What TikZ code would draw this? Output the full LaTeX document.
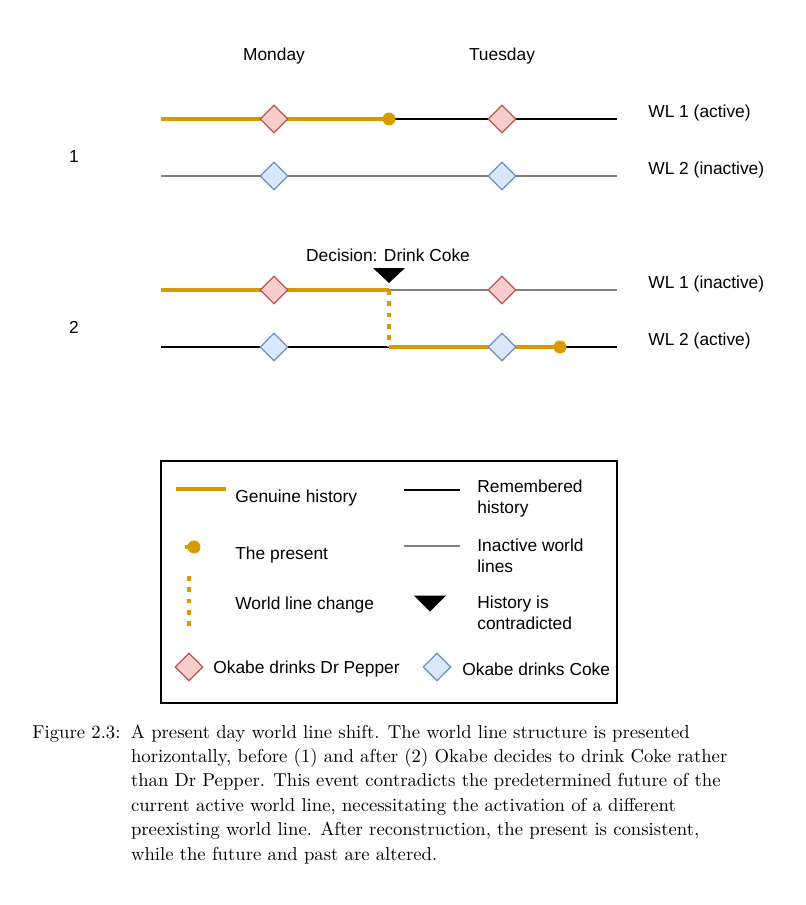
\documentclass[tikz,border=0pt]{standalone}
\usepackage{fontspec}
\newfontfamily\wlfont{Liberation Sans}
\usetikzlibrary{shapes.geometric,positioning}
\definecolor{wlorange}{RGB}{215,155,0}
\definecolor{wlgray}{RGB}{128,128,128}
\definecolor{pepfill}{RGB}{248,206,204}
\definecolor{pepline}{RGB}{184,84,80}
\definecolor{cokefill}{RGB}{218,232,252}
\definecolor{cokeline}{RGB}{108,142,191}

\tikzset{
  genuine/.style={wlorange,line width=2.4pt},
  remembered/.style={black,line width=1.4pt},
  inactive/.style={wlgray,line width=0.55pt},
  wlchange/.style={wlorange,line width=2.6pt,dash pattern=on 2.6pt off 3.3pt},
  present/.style={circle,fill=wlorange,inner sep=0pt,minimum size=6.8pt},
  pepper/.style={diamond,draw=pepline,fill=pepfill,line width=0.6pt,
                 inner sep=0pt,minimum size=14.7pt},
  coke/.style={diamond,draw=cokeline,fill=cokefill,line width=0.6pt,
               inner sep=0pt,minimum size=14.7pt},
  lbl/.style={anchor=west,align=left,inner sep=0pt}
}

\begin{document}
\begin{tikzpicture}[x=0.524pt,y=-0.524pt,
    every node/.style={font=\wlfont\fontsize{9.1}{11}\selectfont}]
  \useasboundingbox (0,0) rectangle (805,905);
  \node (mon) at (274,56){Monday};
  \node (tue) at (502,56){Tuesday};
  \foreach \n/\y in {1/119,2/176,3/290,4/347}{
    \coordinate (a\n) at (161,\y);
    \coordinate (b\n) at (617,\y);
  }
  % before the decision
  \node (one) at (74,157){1};
  \coordinate (now1) at (389,119);
  \draw[remembered](now1)--(b1);
  \draw[genuine](a1)--(now1);
  \draw[inactive](a2)--(b2);
  \node[present] (dot1) at (now1){};
  \node[lbl] (wl1a) at (648,113){WL 1 (active)};
  \node[lbl] (wl2i) at (648,170){WL 2 (inactive)};
  % after the decision
  \node (two) at (74,327){2};
  \node (dec) at (388,255){Decision: Drink Coke};
  \coordinate (sw3) at (389,290);
  \coordinate (sw4) at (389,347);
  \coordinate (now2) at (560,347);
  \coordinate (contra) at (389,275.5);
  \draw[inactive](sw3)--(b3);
  \draw[genuine](a3)--(sw3);
  \draw[remembered](a4)--(sw4);
  \draw[remembered](now2)--(b4);
  \draw[genuine](sw4)--(now2);
  \draw[wlchange](sw3)--(sw4);
  \fill (contra) ++(-16,-7.5) -- ++(32,0) -- ++(-16,15) -- cycle;
  \node[present] (dot2) at (now2){};
  \node[lbl] (wl1i) at (648,284){WL 1 (inactive)};
  \node[lbl] (wl2a) at (648,341){WL 2 (active)};
  \foreach \x/\d in {274/m,502/t}{
    \node[pepper] (pep1\d) at (\x,119){};
    \node[coke] (coke1\d) at (\x,176){};
    \node[pepper] (pep2\d) at (\x,290){};
    \node[coke] (coke2\d) at (\x,347){};
  }
  % legend
  \coordinate (lgnw) at (161,461);
  \coordinate (lgse) at (617,703);
  \draw[line width=0.8pt](lgnw) rectangle (lgse);
  \coordinate (g1) at (176,489); \coordinate (g2) at (226,489);
  \draw[genuine](g1)--(g2);
  \node[lbl] (lgen) at (235,498){Genuine history};
  \coordinate (r1) at (404,490); \coordinate (r2) at (460,490);
  \draw[remembered](r1)--(r2);
  \node[lbl] (lrem) at (477,498.5){Remembered\\history};
  \coordinate (q1) at (185,547); \coordinate (q2) at (194,547);
  \draw[genuine](q1)--(q2);
  \node[present] (lnow) at (q2){};
  \node[lbl] (lpres) at (235,555){The present};
  \coordinate (i1) at (404,546); \coordinate (i2) at (460,546);
  \draw[inactive](i1)--(i2);
  \node[lbl] (linact) at (477,555.5){Inactive world\\lines};
  \coordinate (c1) at (189,576); \coordinate (c2) at (189,628);
  \draw[wlchange](c1)--(c2);
  \node[lbl] (lchg) at (235,605){World line change};
  \coordinate (lcontra) at (430,603.5);
  \fill (lcontra) ++(-16,-8) -- ++(32,0) -- ++(-16,16) -- cycle;
  \node[lbl] (lhist) at (477,612.5){History is\\contradicted};
  \node[pepper] (lpep) at (189,667){};
  \node[lbl] (lpept) at (213,669){Okabe drinks Dr Pepper};
  \node[coke] (lcoke) at (437,667){};
  \node[lbl] (lcoket) at (462,669){Okabe drinks Coke};
  % caption
  \node[anchor=base west,inner sep=0pt,font=\normalfont\fontsize{9.8}{12.8}\selectfont]
    (cap) at (32,738){\begin{tabular}[t]{@{}l@{\hspace{5.5pt}}l@{}}
    Figure 2.3: & A present day world line shift. The world line structure is presented\\
    & horizontally, before (1) and after (2) Okabe decides to drink Coke rather\\
    & than Dr Pepper. This event contradicts the predetermined future of the\\
    & current active world line, necessitating the activation of a different\\
    & preexisting world line. After reconstruction, the present is consistent,\\
    & while the future and past are altered.
    \end{tabular}};
\end{tikzpicture}
\end{document}
